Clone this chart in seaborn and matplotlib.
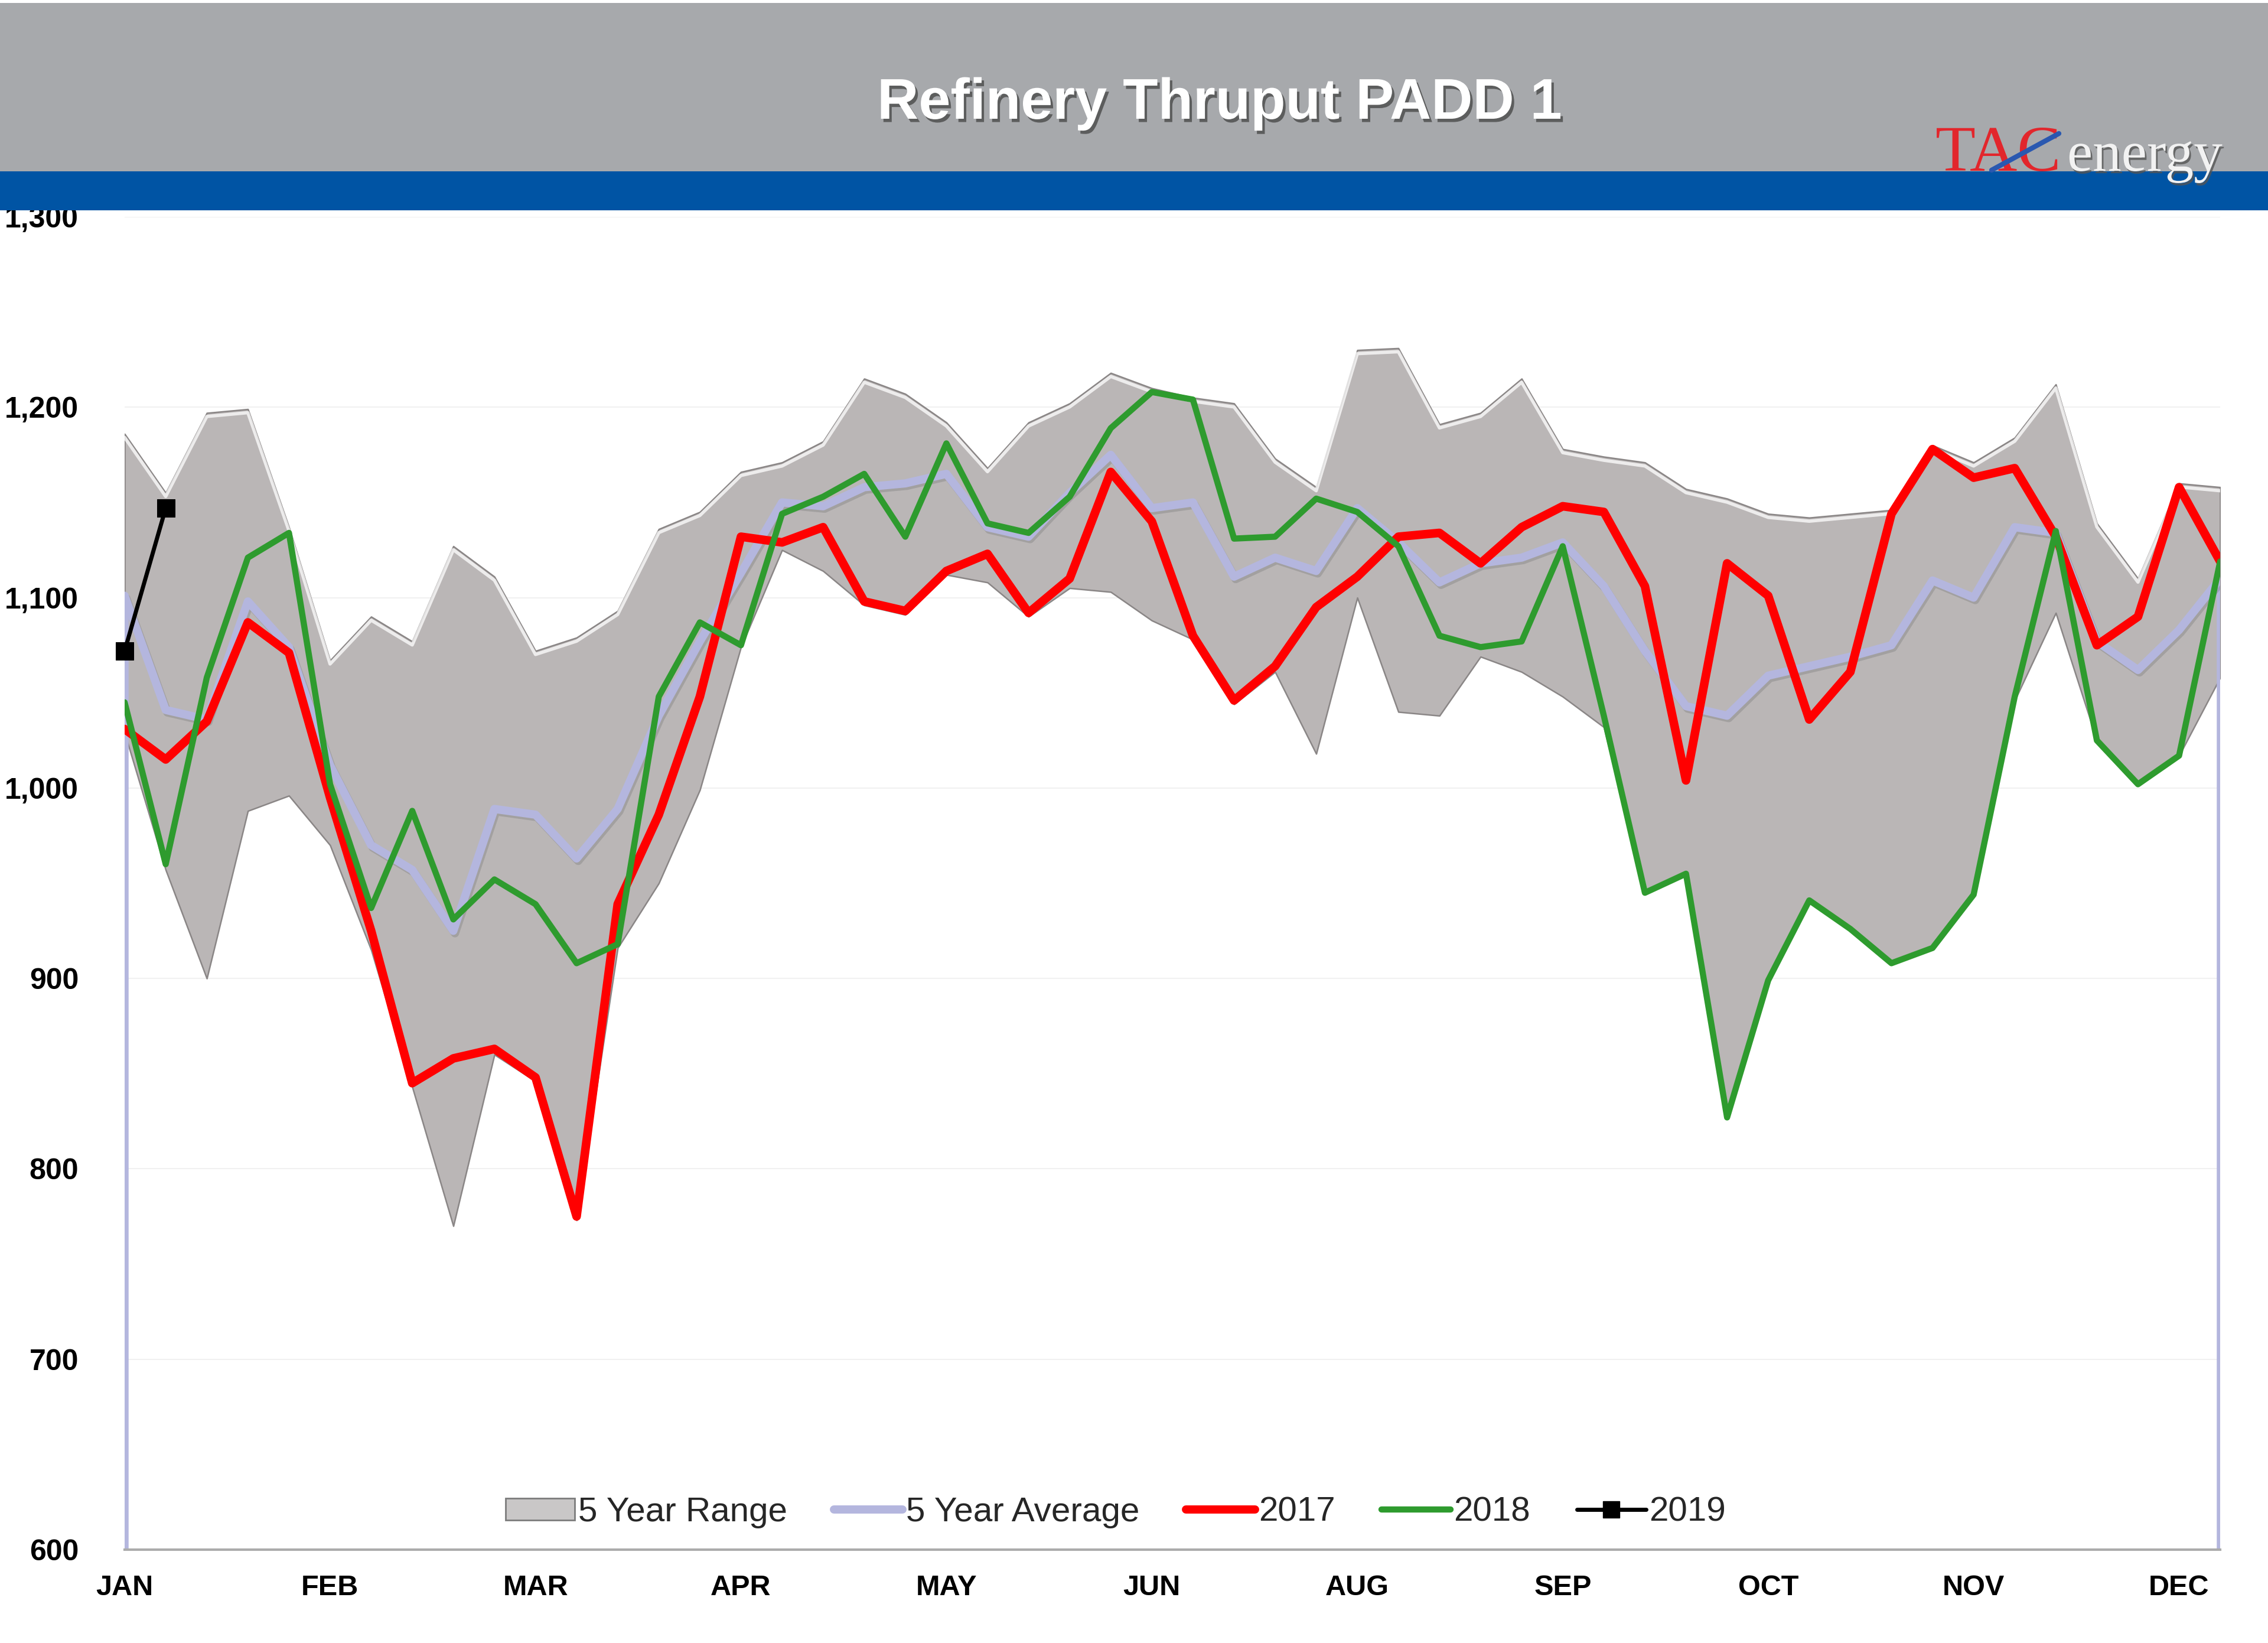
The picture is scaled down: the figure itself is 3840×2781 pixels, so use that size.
import numpy as np
import pandas as pd
import matplotlib
matplotlib.use("Agg")
import matplotlib.pyplot as plt
import matplotlib.patheffects as pe
from matplotlib.patches import Rectangle, Patch
from matplotlib.lines import Line2D
from matplotlib.transforms import offset_copy
import seaborn as sns

# ---------------- data (weekly, 52 weeks) ----------------
month_labels = ["JAN", "FEB", "MAR", "APR", "MAY", "JUN", "AUG", "SEP", "OCT", "NOV", "DEC"]
month_tick_weeks = [0, 5, 10, 15, 20, 25, 30, 35, 40, 45, 50]

range_upper = [1186, 1155, 1197, 1199, 1137, 1067, 1090, 1077, 1127, 1111,
               1072, 1079, 1093, 1136, 1145, 1166, 1171, 1182, 1215, 1207,
               1192, 1168, 1192, 1202, 1218, 1210, 1205, 1202, 1173, 1158,
               1230, 1231, 1191, 1197, 1215, 1178, 1174, 1171, 1157, 1152,
               1144, 1142, 1144, 1146, 1180, 1171, 1184, 1212, 1139, 1110,
               1160, 1158]
range_lower = [1029, 957, 900, 988, 996, 970, 915, 843, 770, 860,
               846, 773, 916, 950, 999, 1074, 1125, 1114, 1096, 1091,
               1112, 1108, 1090, 1105, 1103, 1088, 1078, 1044, 1061, 1018,
               1100, 1040, 1038, 1069, 1061, 1048, 1032, 945, 955, 827,
               899, 941, 926, 908, 916, 944, 1046, 1092, 1025, 1002,
               1017, 1058]
avg_5yr = [1101, 1041, 1036, 1098, 1074, 1012, 970, 957, 925, 989,
           986, 963, 989, 1038, 1077, 1113, 1150, 1148, 1158, 1160,
           1165, 1137, 1132, 1155, 1175, 1147, 1150, 1111, 1121, 1114,
           1147, 1129, 1108, 1118, 1121, 1129, 1106, 1072, 1043, 1038,
           1059, 1064, 1069, 1075, 1109, 1100, 1137, 1134, 1077, 1062,
           1083, 1110]
y2017 = [1031, 1015, 1035, 1087, 1071, 995, 925, 845, 858, 863,
         848, 775, 939, 986, 1048, 1132, 1129, 1137, 1098, 1093,
         1114, 1123, 1092, 1110, 1166, 1140, 1080, 1046, 1064, 1095,
         1111, 1132, 1134, 1118, 1137, 1148, 1145, 1106, 1004, 1118,
         1101, 1036, 1061, 1144, 1178, 1163, 1168, 1132, 1075, 1090,
         1158, 1119]
y2018 = [1045, 960, 1058, 1121, 1134, 1002, 937, 988, 931, 952,
         939, 908, 918, 1048, 1087, 1075, 1144, 1153, 1165, 1132,
         1181, 1139, 1134, 1153, 1189, 1208, 1204, 1131, 1132, 1152,
         1145, 1127, 1080, 1074, 1077, 1127, 1038, 945, 955, 827,
         899, 941, 926, 908, 916, 944, 1048, 1135, 1025, 1002,
         1017, 1119]
y2019 = [1072, 1147]

weeks = np.arange(len(range_upper))

# ---------------- style ----------------
sns.set_theme(style="white")
plt.rcParams["font.family"] = ["Liberation Sans", "DejaVu Sans"]

C_RANGE = "#BAB6B6"
C_RANGE_EDGE = "#8A8686"
C_AVG = "#B4B6DE"
C_2017 = "#FF0000"
C_2018 = "#2E9B2E"
C_2019 = "#000000"

fig = plt.figure(figsize=(38.4, 27.81), dpi=100)
fig.patch.set_facecolor("white")
ax = fig.add_axes([211 / 3840, 1 - 2623 / 2781, (3759 - 211) / 3840, (2623 - 367) / 2781])
ax.set_facecolor("white")

# 5 year range band
ax.fill_between(weeks, range_lower, range_upper, facecolor=C_RANGE,
                edgecolor=C_RANGE_EDGE, linewidth=1.8, zorder=2)
hl = offset_copy(ax.transData, fig=fig, x=0, y=-6, units="dots")
ax.plot(weeks, range_upper, color="white", lw=4, alpha=0.75, transform=hl, zorder=2.1,
        solid_joinstyle="round")

# drop lines of the average at both ends
ax.vlines([weeks[0], weeks[-1]], 600, [avg_5yr[0], avg_5yr[-1]], color=C_AVG, lw=9, zorder=2.5)

df = pd.DataFrame({"week": weeks, "avg": avg_5yr, "y2017": y2017, "y2018": y2018})
sns.lineplot(data=df, x="week", y="avg", ax=ax, color=C_AVG, lw=10, zorder=3,
             path_effects=[pe.SimpleLineShadow(offset=(2, -3), shadow_color="#777777", alpha=0.35),
                           pe.Normal()])
sns.lineplot(data=df, x="week", y="y2017", ax=ax, color=C_2017, lw=10.5, zorder=4)
sns.lineplot(data=df, x="week", y="y2018", ax=ax, color=C_2018, lw=7.5, zorder=5)
sns.lineplot(x=weeks[:len(y2019)], y=y2019, ax=ax, color=C_2019, lw=5, marker="s",
             markersize=22, markeredgecolor=C_2019, zorder=6, clip_on=False)

# axes
ax.set_xlim(weeks[0], weeks[-1])
ax.set_ylim(600, 1300)
ax.set_yticks(np.arange(600, 1301, 100))
ax.set_yticklabels([f"{v:,}" for v in range(600, 1301, 100)])
ax.set_xticks(month_tick_weeks)
ax.set_xticklabels(month_labels)
ax.set_xlabel("")
ax.set_ylabel("")
ax.grid(axis="y", color="#F1F1F1", lw=1.5, zorder=0)
ax.grid(axis="x", visible=False)
for s in ["left", "top", "right"]:
    ax.spines[s].set_visible(False)
ax.spines["bottom"].set_color("#ABABAB")
ax.spines["bottom"].set_linewidth(3)
ax.tick_params(axis="y", length=6, width=1.5, color="#E4E4E4", pad=50, labelsize=36)
ax.tick_params(axis="x", length=0, pad=30, labelsize=35)
for t in ax.get_yticklabels() + ax.get_xticklabels():
    t.set_fontweight("bold")
    t.set_color("black")

# legend
handles = [
    Patch(facecolor="#C9C7C7", edgecolor="#7C7C7C", linewidth=2),
    Line2D([0], [0], color=C_AVG, lw=10),
    Line2D([0], [0], color=C_2017, lw=10),
    Line2D([0], [0], color=C_2018, lw=7.5),
    Line2D([0], [0], color=C_2019, lw=5, marker="s", markersize=20),
]
labels = ["5 Year Range", "5 Year Average", "2017", "2018", "2019"]
leg = ax.legend(handles, labels, loc="center", bbox_to_anchor=(0.473, 0.028), ncol=5,
                frameon=False, fontsize=42, handlelength=2.0, handleheight=0.6,
                handletextpad=0.1, columnspacing=1.35)

# header bands
fig.add_artist(Rectangle((0, 1 - 290 / 2781), 1, (290 - 5) / 2781, transform=fig.transFigure,
                         facecolor="#A7A9AC", edgecolor="none", zorder=10))
fig.add_artist(Rectangle((0, 1 - 356 / 2781), 1, 66 / 2781, transform=fig.transFigure,
                         facecolor="#0054A4", edgecolor="none", zorder=10))

fig.text(2065 / 3840, 1 - 176 / 2781, "Refinery Thruput PADD 1", ha="center", va="center",
         fontsize=70, fontweight="bold", color="white", zorder=11,
         path_effects=[pe.withSimplePatchShadow(offset=(3, -4), shadow_rgbFace="#4A4A4A", alpha=0.8)])

# logo
fig.text(3277 / 3840, 1 - 289 / 2781, "TAC", ha="left", va="baseline", fontsize=80,
         family="Liberation Serif", color="#E2262C", zorder=12)
fig.text(3500 / 3840, 1 - 289 / 2781, "energy", ha="left", va="baseline", fontsize=70,
         family="Liberation Serif", color="#F2F2F2", zorder=12,
         path_effects=[pe.withSimplePatchShadow(offset=(2, -3), shadow_rgbFace="#555555", alpha=0.8)])
fig.add_artist(Line2D([3372 / 3840, 3486 / 3840], [1 - 288 / 2781, 1 - 226 / 2781],
                      transform=fig.transFigure, color="#2A58B0", lw=6, zorder=13))

fig.savefig("out.png", dpi=100, facecolor="white")
